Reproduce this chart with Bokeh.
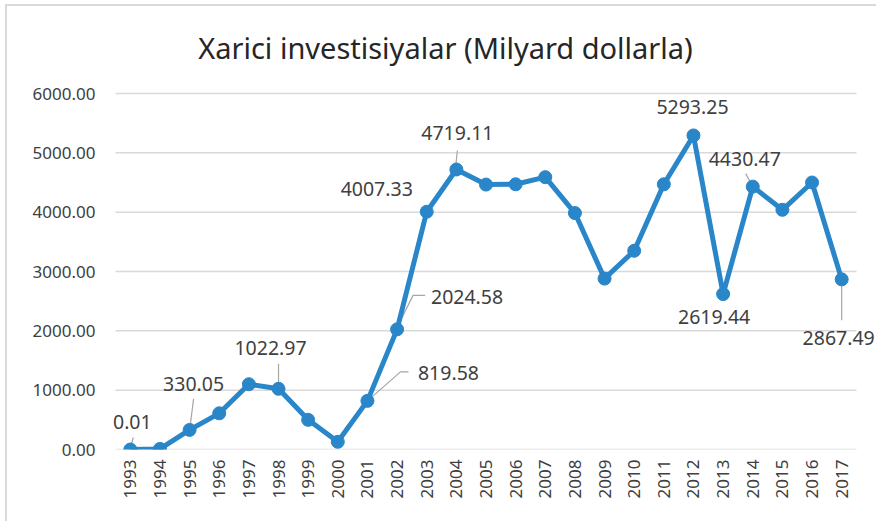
import math
from bokeh.plotting import figure
from bokeh.models import Range1d, FixedTicker, Label, PrintfTickFormatter
from bokeh.embed import file_html
from bokeh.resources import INLINE

# ---- data ----
years = list(range(1993, 2018))
values = [0.01, 10, 330.05, 610, 1100, 1022.97, 500, 130, 819.58, 2024.58,
          4007.33, 4719.11, 4465, 4470, 4590, 3985, 2880, 3350, 4470,
          5293.25, 2619.44, 4430.47, 4040, 4500, 2867.49]
y_ticks = [0, 1000, 2000, 3000, 4000, 5000, 6000]
title_text = "Xarici investisiyalar (Milyard dollarla)"
labeled_years = [1993, 1995, 1998, 2001, 2002, 2003, 2004, 2012, 2013, 2014, 2017]

# ---- layout / style ----
W, H = 876, 521
PLOT_L, PLOT_R, PLOT_T, PLOT_B = 115, 856, 93, 449   # plot area in px
FRAME_L = 100                                         # drawing frame starts a bit left
FONT = "Noto Sans"
LINE_COLOR = "#2986C9"
XS = years[0] - 0.5
XE = years[-1] + 0.5
px_x = (XE - XS) / (PLOT_R - PLOT_L)
X0 = XS - (PLOT_L - FRAME_L) * px_x
X1 = XS + (W - PLOT_L) * px_x
Y0, YT = y_ticks[0], y_ticks[-1]
px_y = (YT - Y0) / (PLOT_B - PLOT_T)
Y1 = YT + PLOT_T * px_y

label_offsets = {1993: (2, 27), 1995: (4, 46), 1998: (-8, 41), 2001: (81, 28),
                 2002: (70, 32), 2003: (-50, 23), 2004: (1, 36), 2012: (-1, 28),
                 2013: (-9, -23), 2014: (-8, 28), 2017: (-3, -59)}
leaders = {1993: [(0, 2), (3, 12)], 1995: [(0, 0), (4, 31)], 1998: [(0, 5), (0, 25)],
           2001: [(0, 0), (33, 29), (41, 29)], 2002: [(0, 2), (16, 34), (28, 34)],
           2004: [(-1, 0), (1, 19)], 2014: [(0, 0), (-7, 13)], 2017: [(0, 0), (0, -41)]}

border_css = ("linear-gradient(#d9d9d9,#d9d9d9) 5px 4px / 100% 2px no-repeat, "
              "linear-gradient(#d9d9d9,#d9d9d9) 5px 4px / 2px 100% no-repeat, white")

p = figure(width=W, height=H, output_backend="svg", toolbar_location=None,
           x_range=Range1d(X0, X1), y_range=Range1d(Y0, Y1),
           min_border_left=FRAME_L, min_border_right=0,
           min_border_top=0, min_border_bottom=H - PLOT_B,
           styles={"background": border_css})
p.outline_line_color = None
p.background_fill_color = None
p.border_fill_color = None
p.xgrid.grid_line_color = None
p.ygrid.grid_line_color = None

# horizontal gridlines across the plot area
p.segment(x0=[XS] * len(y_ticks), y0=y_ticks, x1=[XE] * len(y_ticks), y1=y_ticks,
          line_color="#d9d9d9", line_width=1.5)

p.xaxis.ticker = FixedTicker(ticks=years)
p.xaxis.major_label_orientation = math.pi / 2
p.yaxis.ticker = FixedTicker(ticks=y_ticks)
p.yaxis.formatter = PrintfTickFormatter(format="%.2f")
for ax in (p.xaxis, p.yaxis):
    ax.axis_line_color = None
    ax.major_tick_line_color = None
    ax.minor_tick_line_color = None
    ax.major_tick_out = 0
    ax.major_tick_in = 0
    ax.major_label_text_font = FONT
    ax.major_label_text_font_size = "17px"
    ax.major_label_text_color = "#404040"
p.yaxis.major_label_standoff = 20 - (PLOT_L - FRAME_L)
p.xaxis.major_label_standoff = 10

xs, ys = [], []
for yr, pts in leaders.items():
    v = values[years.index(yr)]
    xs.append([yr + dx * px_x for dx, dy in pts])
    ys.append([v + dy * px_y for dx, dy in pts])
p.multi_line(xs, ys, line_color="#a6a6a6", line_width=1.2)

p.line(years, values, line_color=LINE_COLOR, line_width=5, line_join="round")
p.scatter(years, values, size=13, marker="circle", fill_color=LINE_COLOR, line_color=LINE_COLOR)

for yr in labeled_years:
    v = values[years.index(yr)]
    dx, dy = label_offsets[yr]
    p.add_layout(Label(x=yr, y=v, x_offset=dx, y_offset=dy, text=f"{v:.2f}",
                       text_align="center", text_baseline="middle",
                       text_font=FONT, text_font_size="19.5px",
                       text_color="#404040"))

p.add_layout(Label(x=XS, y=Y1, x_offset=445 - PLOT_L, y_offset=-47, text=title_text,
                   text_align="center", text_baseline="middle",
                   text_font=FONT, text_font_size="29px", text_color="#262626"))

open("out.html", "w").write(file_html(p, INLINE))
